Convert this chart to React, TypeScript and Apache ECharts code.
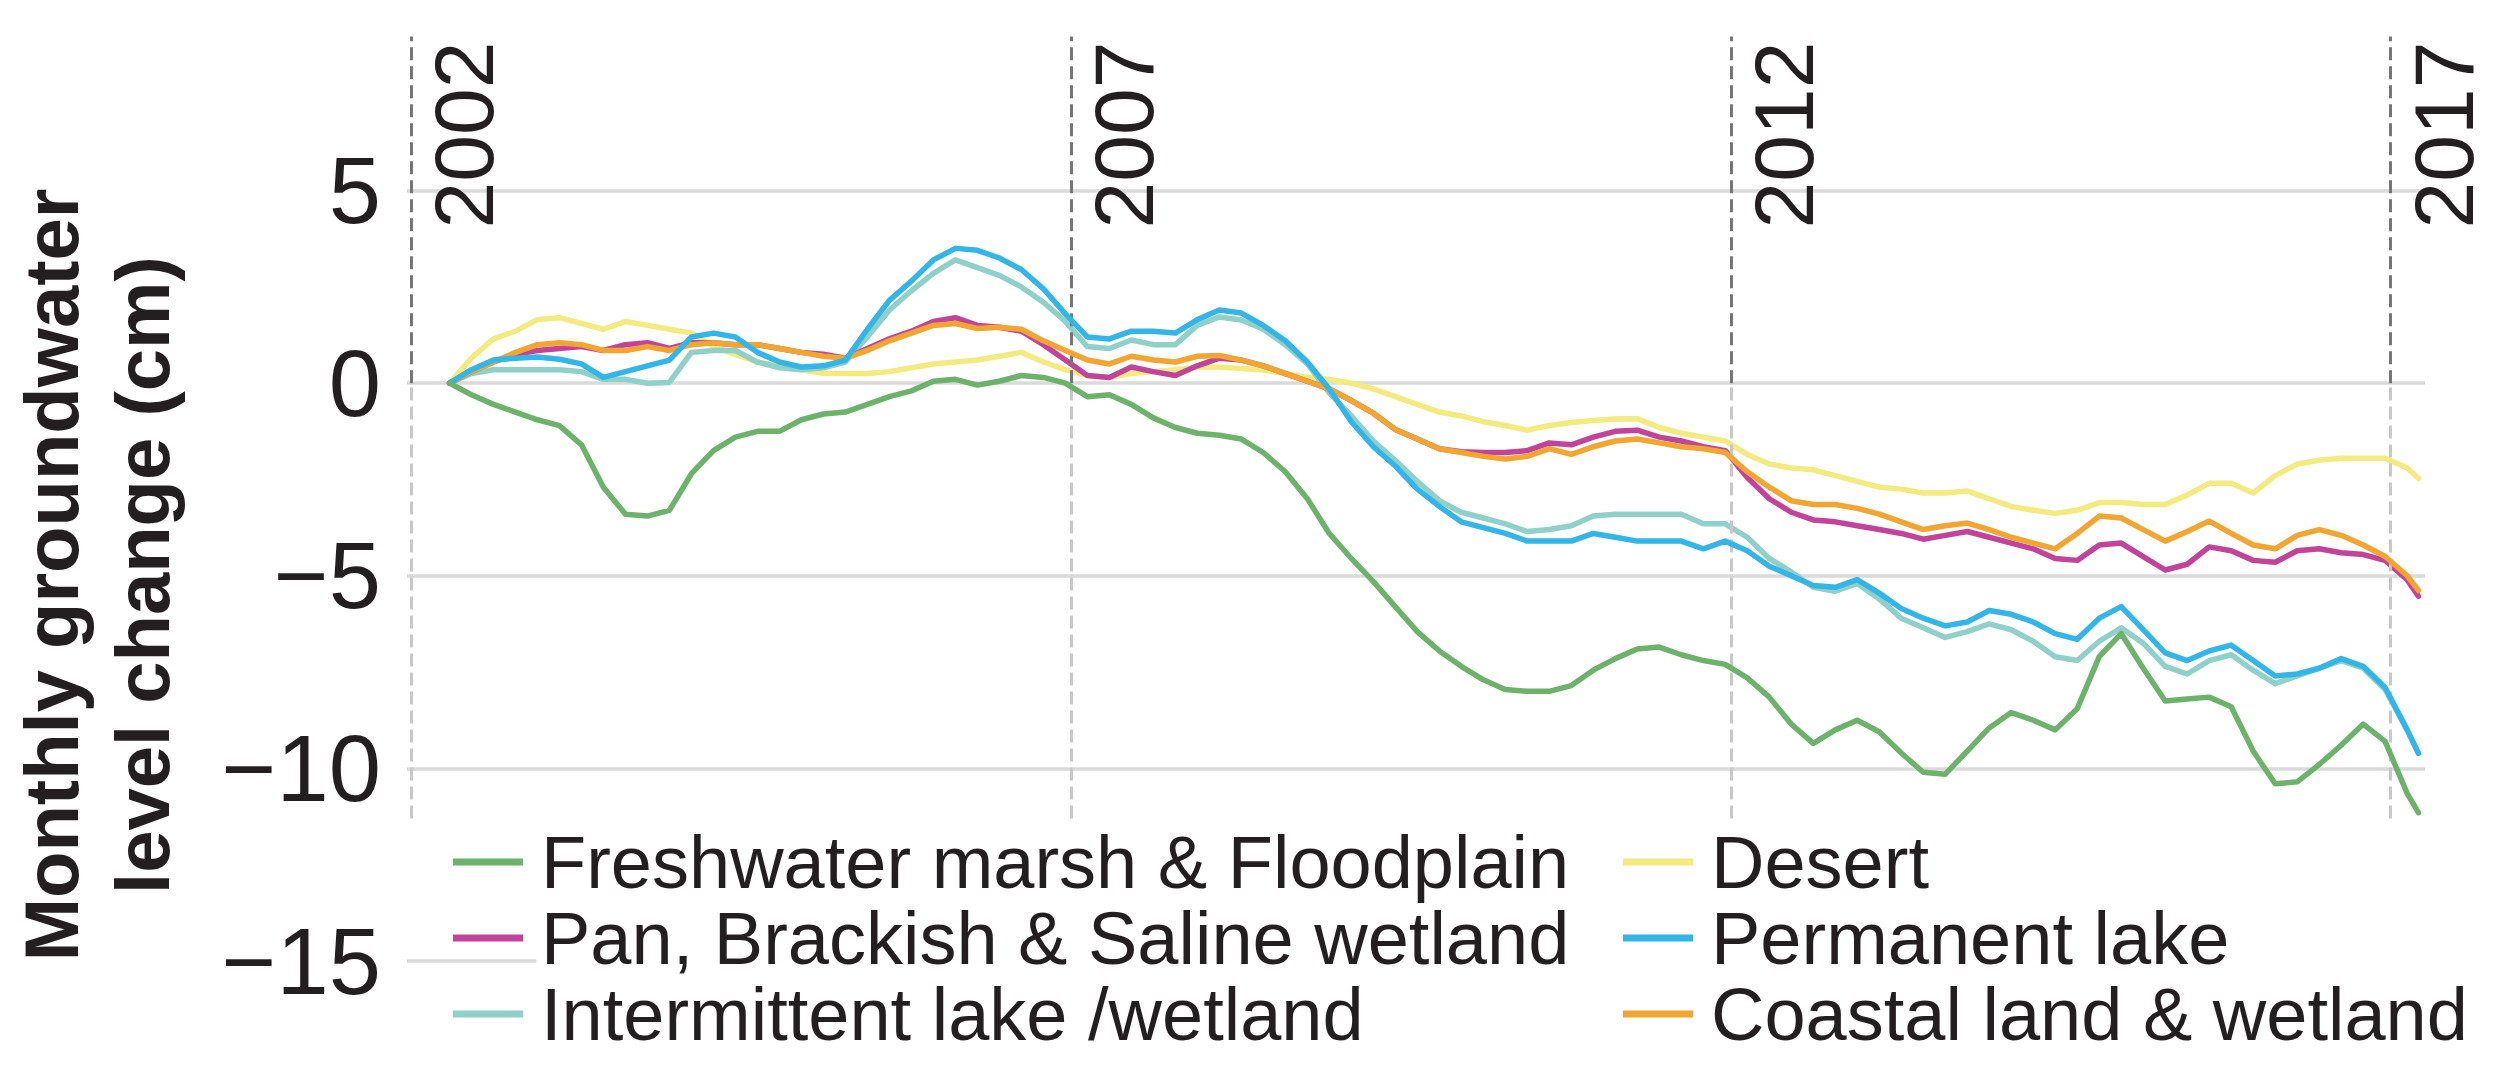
import React, { useEffect, useRef } from "react";
import * as echarts from "echarts";

// ---- time axis: bi-monthly samples (mid-month), Apr 2002 .. Mar 2017 ----
const START = 2002 + 3.5 / 12;
const times: number[] = [];
for (let i = 0; i < 90; i++) times.push(+(START + i / 6).toFixed(3));
times.push(2017.21);

const yearMarks = [2002, 2007, 2012, 2017];
const yTicks = [-15, -10, -5, 0, 5];

const seriesNames = [
  "Freshwater marsh & Floodplain",
  "Pan, Brackish & Saline wetland",
  "Intermittent lake /wetland",
  "Desert",
  "Permanent lake",
  "Coastal land & wetland",
];

// ---- series values (cm) ----
const freshwater = [
  0, -0.3, -0.55, -0.75, -0.95, -1.1, -1.6, -2.7, -3.4, -3.45,
  -3.3, -2.35, -1.75, -1.4, -1.25, -1.25, -0.95, -0.8, -0.75, -0.55,
  -0.35, -0.2, 0.05, 0.1, -0.05, 0.05, 0.2, 0.15, 0.0, -0.35,
  -0.3, -0.55, -0.9, -1.15, -1.3, -1.35, -1.45, -1.8, -2.3, -3.0,
  -3.9, -4.55, -5.15, -5.8, -6.45, -6.95, -7.35, -7.7, -7.95, -8.0,
  -8.0, -7.85, -7.45, -7.15, -6.9, -6.85, -7.05, -7.2, -7.3, -7.65,
  -8.15, -8.85, -9.35, -9.0, -8.75, -9.05, -9.6, -10.1, -10.15, -9.55,
  -8.95, -8.55, -8.75, -9.0, -8.45, -7.1, -6.5, -7.4, -8.25, -8.2,
  -8.15, -8.4, -9.55, -10.4, -10.35, -9.9, -9.4, -8.85, -9.3, -10.65,
  -11.15,
];
const pan = [
  0, 0.3, 0.55, 0.75, 0.85, 0.9, 0.95, 0.85, 1.0, 1.05,
  0.9, 1.05, 1.05, 1.0, 1.0, 0.9, 0.8, 0.75, 0.65, 0.9,
  1.15, 1.35, 1.6, 1.7, 1.5, 1.45, 1.35, 1.0, 0.6, 0.2,
  0.15, 0.42, 0.3, 0.2, 0.45, 0.65, 0.6, 0.45, 0.25, 0.05,
  -0.15, -0.45, -0.78, -1.2, -1.45, -1.7, -1.78, -1.8, -1.8, -1.75,
  -1.55, -1.6, -1.4, -1.25, -1.22, -1.4, -1.5, -1.65, -1.75, -2.45,
  -3.0, -3.35, -3.55, -3.6, -3.7, -3.8, -3.9, -4.05, -3.95, -3.85,
  -4.0, -4.15, -4.3, -4.55, -4.6, -4.2, -4.15, -4.5, -4.85, -4.7,
  -4.25, -4.35, -4.6, -4.65, -4.35, -4.3, -4.4, -4.45, -4.6, -5.1,
  -5.53,
];
const intermittent = [
  0, 0.25, 0.35, 0.35, 0.35, 0.35, 0.3, 0.1, 0.1, 0.0,
  0.02, 0.8, 0.85, 0.85, 0.55, 0.4, 0.35, 0.4, 0.55, 1.2,
  1.9, 2.4, 2.85, 3.2, 3.0, 2.8, 2.5, 2.1, 1.6, 0.95,
  0.9, 1.12, 1.0, 1.0, 1.5, 1.72, 1.64, 1.4, 1.0, 0.5,
  -0.25, -0.85, -1.5, -2.0, -2.55, -3.05, -3.35, -3.5, -3.65, -3.85,
  -3.8, -3.7, -3.45, -3.4, -3.4, -3.4, -3.4, -3.65, -3.65, -4.0,
  -4.55, -4.9, -5.3, -5.4, -5.2, -5.6, -6.1, -6.35, -6.6, -6.45,
  -6.25, -6.4, -6.7, -7.1, -7.2, -6.7, -6.35, -6.75, -7.35, -7.55,
  -7.2, -7.05, -7.45, -7.8, -7.6, -7.4, -7.2, -7.4, -7.95, -9.0,
  -9.6,
];
const desert = [
  0, 0.65, 1.15, 1.35, 1.65, 1.7, 1.55, 1.4, 1.6, 1.5,
  1.4, 1.3, 0.95, 0.75, 0.55, 0.45, 0.35, 0.26, 0.25, 0.25,
  0.3, 0.4, 0.5, 0.55, 0.6, 0.7, 0.8, 0.55, 0.35, 0.2,
  0.15, 0.25, 0.3, 0.35, 0.42, 0.42, 0.38, 0.34, 0.25, 0.15,
  0.1, 0.0, -0.15, -0.35, -0.55, -0.75, -0.85, -1.0, -1.1, -1.22,
  -1.1, -1.02, -0.97, -0.93, -0.92, -1.15, -1.3, -1.4, -1.5, -1.85,
  -2.1, -2.2, -2.25, -2.4, -2.55, -2.7, -2.75, -2.85, -2.85, -2.8,
  -3.0, -3.2, -3.3, -3.38, -3.3, -3.1, -3.1, -3.15, -3.15, -2.9,
  -2.6, -2.6, -2.85, -2.4, -2.1, -2.0, -1.95, -1.95, -1.95, -2.2,
  -2.47,
];
const permanent = [
  0, 0.35, 0.6, 0.65, 0.68, 0.62, 0.5, 0.15, 0.3, 0.45,
  0.6, 1.2, 1.3, 1.2, 0.8, 0.55, 0.42, 0.45, 0.6, 1.4,
  2.15, 2.65, 3.2, 3.5, 3.45, 3.25, 2.95, 2.45, 1.8, 1.2,
  1.15, 1.35, 1.35, 1.3, 1.65, 1.9, 1.82, 1.5, 1.1, 0.55,
  -0.15, -1.0, -1.65, -2.15, -2.75, -3.2, -3.6, -3.75, -3.9, -4.1,
  -4.1, -4.1, -3.9, -4.0, -4.1, -4.1, -4.1, -4.3, -4.1, -4.35,
  -4.75, -5.0, -5.25, -5.3, -5.1, -5.45, -5.85, -6.1, -6.3, -6.2,
  -5.9, -6.0, -6.2, -6.5, -6.65, -6.1, -5.8, -6.4, -7.0, -7.2,
  -6.95, -6.8, -7.2, -7.6, -7.55, -7.4, -7.15, -7.35, -7.9, -9.0,
  -9.61,
];
const coastal = [
  0, 0.3, 0.55, 0.8, 1.0, 1.05, 1.0, 0.85, 0.85, 0.95,
  0.85, 1.0, 1.05, 1.0, 1.0, 0.9, 0.8, 0.7, 0.65, 0.85,
  1.1, 1.3, 1.5, 1.55, 1.42, 1.45, 1.4, 1.1, 0.85, 0.6,
  0.5, 0.7, 0.6, 0.55, 0.7, 0.72, 0.6, 0.45, 0.25, 0.05,
  -0.15, -0.45, -0.78, -1.2, -1.45, -1.7, -1.8, -1.9, -1.97, -1.9,
  -1.7, -1.85, -1.65, -1.5, -1.45, -1.55, -1.65, -1.7, -1.8, -2.3,
  -2.7, -3.05, -3.15, -3.15, -3.25, -3.4, -3.6, -3.8, -3.7, -3.63,
  -3.8, -4.0, -4.15, -4.3, -3.9, -3.45, -3.5, -3.8, -4.1, -3.85,
  -3.58, -3.9, -4.2, -4.3, -3.95, -3.8, -3.95, -4.2, -4.5, -5.0,
  -5.38,
];

const FONT = "'Liberation Sans', Arial, sans-serif";
const TEXT = "#231f20";
const GRID_GRAY = "#dadada";

export default function App() {
  const ref = useRef<HTMLDivElement>(null);

  useEffect(() => {
    if (!ref.current) return;
    const chart = echarts.init(ref.current, undefined, { renderer: "svg" });

    const line = (name: string, values: number[], color: string, z: number) => ({
      name,
      type: "line",
      data: times.map((t, i) => [t, values[i]]),
      symbol: "none",
      showSymbol: false,
      silent: true,
      z,
      lineStyle: { color, width: 5.5, join: "round", cap: "round" },
      itemStyle: { color },
    });

    const dash = [13, 6];
    const markData: any[] = [];
    yearMarks.forEach((y) => {
      markData.push([
        {
          coord: [y, 0],
          lineStyle: { color: "#767676", type: dash, width: 3 },
          label: {
            show: true,
            formatter: String(y),
            position: "insideEndBottom",
            distance: [5, 11],
            fontSize: 84,
            fontFamily: FONT,
            color: TEXT,
          },
        },
        { coord: [y, 9] },
      ]);
      markData.push([
        {
          coord: [y, -11.3],
          lineStyle: { color: "#c8c8c8", type: dash, width: 3 },
          label: { show: false },
        },
        { coord: [y, 0] },
      ]);
    });
    markData.push([
      {
        coord: [2001.97, -15],
        lineStyle: { color: GRID_GRAY, type: "solid", width: 3.5 },
        label: { show: false },
      },
      { coord: [2002.95, -15] },
    ]);

    const legendBase = {
      orient: "vertical",
      top: 824,
      itemGap: 0,
      itemWidth: 70,
      itemHeight: 7,
      icon: "rect",
      padding: 0,
      selectedMode: false,
      textStyle: {
        fontFamily: FONT,
        fontSize: 74,
        color: TEXT,
        lineHeight: 76,
        padding: [0, 0, 0, 13],
      },
    };

    chart.setOption({
      animation: false,
      backgroundColor: "#ffffff",
      grid: { left: 407, right: 74, top: 36.5, bottom: 115, containLabel: false, outerBoundsMode: "none" },
      xAxis: { type: "value", min: 2001.97, max: 2017.26, show: false },
      yAxis: {
        type: "value",
        min: yTicks[0],
        max: 9,
        interval: 5,
        axisLine: { show: false },
        axisTick: { show: false },
        axisLabel: {
          showMaxLabel: false,
          fontSize: 94,
          fontFamily: FONT,
          color: TEXT,
          margin: 26,
          padding: [0, 0, 12, 0],
          formatter: (v: number) => (v < 0 ? "\u2212" + Math.abs(v) : String(v)),
        },
        splitLine: {
          show: true,
          lineStyle: {
            color: ["transparent", GRID_GRAY, GRID_GRAY, GRID_GRAY, GRID_GRAY, "transparent"],
            width: 3.5,
          },
        },
      },
      legend: [
        { ...legendBase, left: 453, data: seriesNames.slice(0, 3) },
        { ...legendBase, left: 1623, data: seriesNames.slice(3, 6) },
      ],
      graphic: [
        {
          type: "text",
          x: 97,
          y: 575,
          rotation: Math.PI / 2,
          silent: true,
          style: {
            text: "Monthly groundwater\nlevel change (cm)",
            fill: TEXT,
            fontFamily: FONT,
            fontSize: 76,
            fontWeight: "bold",
            lineHeight: 91,
            align: "center",
            verticalAlign: "middle",
          },
        },
      ],
      series: [
        {
          name: "_years",
          type: "line",
          data: [],
          silent: true,
          z: 1,
          markLine: {
            silent: true,
            symbol: ["none", "none"],
            animation: false,
            data: markData,
          },
        },
        line(seriesNames[3], desert, "#f3ea80", 2),
        line(seriesNames[2], intermittent, "#8fd0c8", 3),
        line(seriesNames[1], pan, "#c1449a", 4),
        line(seriesNames[5], coastal, "#f2a531", 5),
        line(seriesNames[4], permanent, "#33b5e8", 6),
        line(seriesNames[0], freshwater, "#6cb26a", 7),
      ],
    });

    return () => chart.dispose();
  }, []);

  return (
    <div
      ref={ref}
      style={{ position: "fixed", left: 0, top: 0, width: 2499, height: 1076, background: "#fff" }}
    />
  );
}
